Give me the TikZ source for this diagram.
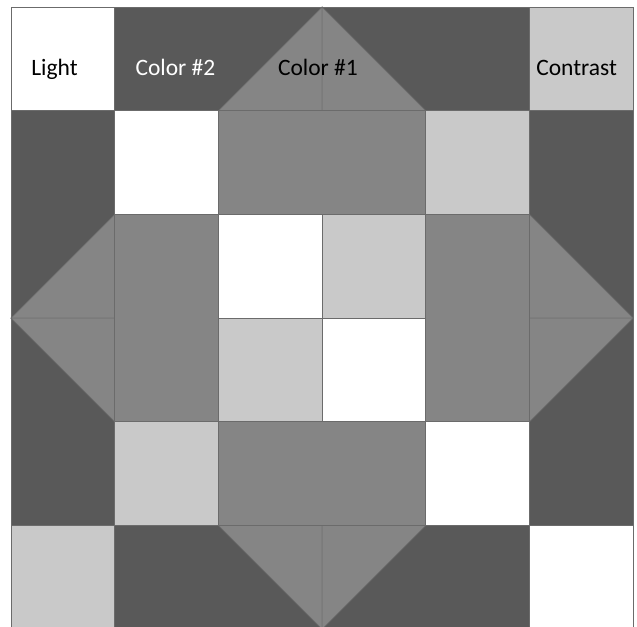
\documentclass[tikz,border=0pt]{standalone}
\usepackage{fontspec}
\setmainfont{Carlito}
\usepackage{tikz}
\usetikzlibrary{positioning}
\definecolor{quiltdark} {HTML}{595959}
\definecolor{quiltmid}  {HTML}{858585}
\definecolor{quiltlight}{HTML}{C9C9C9}
\definecolor{quiltline} {HTML}{6B6B6B}

\begin{document}
\begin{tikzpicture}[
  patch/.style={draw=quiltline,line width=0.6pt},
  dark/.style={patch,fill=quiltdark},
  mid/.style={patch,fill=quiltmid},
  pale/.style={patch,fill=quiltlight},
  blank/.style={patch,fill=white},
  swatch/.style={font=\fontsize{23.5}{28}\selectfont,anchor=base,inner sep=0pt},
  x=103.7pt,y=-103.7pt
]
\useasboundingbox (-0.106,-0.0675) rectangle (6.037,5.979);
\clip (-0.106,-0.0675) rectangle (6.037,5.979);
% Dark border strips
\draw[dark] (1,0) rectangle (5,1);
\draw[dark] (1,5) rectangle (5,6);
\draw[dark] (0,1) rectangle (1,5);
\draw[dark] (5,1) rectangle (6,5);
% Corner and centre squares
\foreach \c/\r/\s in {0/0/blank,5/0/pale,0/5/pale,5/5/blank,
                      1/1/blank,4/1/pale,1/4/pale,4/4/blank,
                      2/2/blank,3/2/pale,2/3/pale,3/3/blank}
  \draw[\s] (\c,\r) rectangle ++(1,1);
% Flying geese triangles
\foreach \ax/\ay/\bx/\by/\mx/\my in {3/0/2/1/3/1, 3/0/4/1/3/1,
                                     3/6/2/5/3/5, 3/6/4/5/3/5,
                                     0/3/1/2/1/3, 0/3/1/4/1/3,
                                     6/3/5/2/5/3, 6/3/5/4/5/3}
  \draw[mid] (\ax,\ay) -- (\bx,\by) -- (\mx,\my) -- cycle;
% Rectangles round the centre
\draw[mid] (2,1) rectangle (4,2);
\draw[mid] (2,4) rectangle (4,5);
\draw[mid] (1,2) rectangle (2,4);
\draw[mid] (4,2) rectangle (5,4);
% Labels
\node[swatch] (light)    at (0.42,0.656)  {Light};
\node[swatch,text=white] (color2) at (1.586,0.656) {Color \#2};
\node[swatch] (color1)   at (2.96,0.656)  {Color \#1};
\node[swatch] (contrast) at (5.455,0.656) {Contrast};
\end{tikzpicture}
\end{document}
